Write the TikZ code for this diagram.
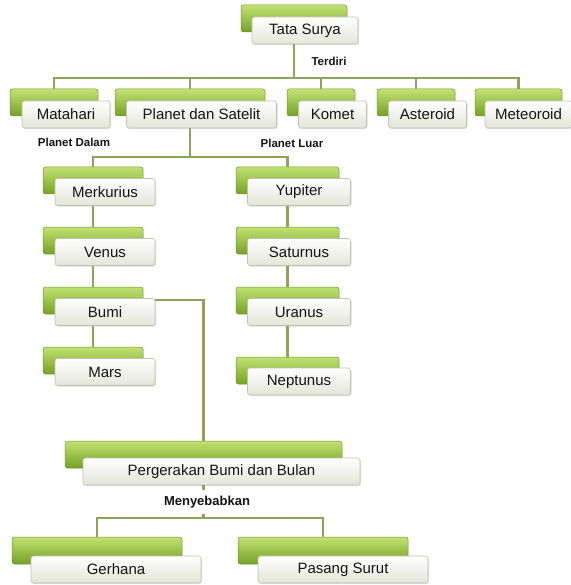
\documentclass[tikz,border=0pt]{standalone}
\usepackage{fontspec}
\setmainfont{Liberation Sans}
\usepackage{xcolor}
\usepackage{tikz}
\usetikzlibrary{shadows}
\definecolor{leaftop}{HTML}{C2E173}
\definecolor{leafbot}{HTML}{74A226}
\definecolor{leafline}{HTML}{6C9628}
\definecolor{paperbot}{HTML}{E3E5D9}
\definecolor{paperline}{HTML}{BFC2B0}
\definecolor{stem}{HTML}{8DA55A}
\definecolor{ink}{HTML}{141414}

\begin{document}
\begin{tikzpicture}[x=1pt,y=-1pt,
    greenbox/.style={draw=leafline,line width=0.5pt,rounded corners=2.5pt,top color=leaftop,bottom color=leafbot,minimum height=27pt,inner sep=0pt},
    namebox/.style={draw=paperline,line width=0.6pt,rounded corners=2.5pt,top color=white,bottom color=paperbot,minimum height=27pt,inner sep=0pt,
        font=\fontsize{15}{17}\selectfont,text=ink,drop shadow={opacity=.25,shadow xshift=1pt,shadow yshift=-1pt}},
    tag/.style={font=\fontsize{11.5}{13}\selectfont\bfseries,text=ink},
    link/.style={draw=stem,line width=2.2pt}]
        \useasboundingbox (0,0) rectangle (570,585);

        % boxes: green back, label card shifted down-right
        \foreach \n/\x/\y/\w/\dx/\dy/\txt in {%
        tata/294/18.5/106/11/12/{Tata Surya},
        matahari/54/102.5/88/12/12/{Matahari},
        planet/190/102.5/150/11.5/12/{Planet dan Satelit},
        komet/321/102.5/68/11.5/12/{Komet},
        asteroid/416/102.5/78/11.5/12/{Asteroid},
        meteoroid/518.5/102.5/87/10/12/{Meteoroid},
        merkurius/93/180.5/100/12/11.5/{Merkurius},
        venus/93/240.5/100/12/11.5/{Venus},
        bumi/93/300.5/100/12/11.5/{Bumi},
        mars/93/360.5/100/12/11.5/{Mars},
        yupiter/287.5/180.5/103/11.5/11.5/{Yupiter},
        saturnus/287.5/240.5/103/11.5/11.5/{Saturnus},
        uranus/287.5/300.5/103/11.5/11.5/{Uranus},
        neptunus/287.5/370.5/103/11.5/11/{Neptunus},
        gerak/203.5/454.5/277/18/17/{Pergerakan Bumi dan Bulan},
        gerhana/97/550.5/170/19/19/{Gerhana},
        pasang/323/550.5/170/20/19/{Pasang Surut}}{
                \node[greenbox,minimum width=\w] (\n-g) at (\x,\y) {};
                \node[namebox,minimum width=\w] (\n) at ([shift={(\dx,\dy)}]\n-g.center) {\txt};
            }

        % top level
        \coordinate (bus1) at (294,78);
        \draw[link] (tata.south -| tata-g.center) -- (bus1);
        \foreach \n in {matahari,planet,komet,asteroid,meteoroid}{
                \draw[link] (bus1) -| (\n-g.north);
            }
        \node[tag] (terdiri) at (329,61) {Terdiri};

        % planets
        \coordinate (bus2) at (190,157);
        \draw[link] (planet.south -| planet-g.center) -- (bus2);
        \draw[link] (bus2) -| (merkurius-g.north);
        \draw[link] (bus2) -| (yupiter-g.north);
        \node[tag] (dalam) at (74,142) {Planet Dalam};
        \node[tag] (luar) at (292,143) {Planet Luar};

        \foreach \a/\b in {merkurius/venus,venus/bumi,bumi/mars,yupiter/saturnus,saturnus/uranus,uranus/neptunus}{
                \draw[link] (\a.south -| \a-g.center) -- (\b-g.north);
            }

        % earth and moon
        \draw[link] ([yshift=-1.5pt]bumi.north east) -| (gerak-g.north);
        \coordinate (bus3) at (203.5,518);
        \draw[link] (gerak.south -| gerak-g.center) -- (bus3);
        \draw[link] (bus3) -| (gerhana-g.north);
        \draw[link] (bus3) -| (pasang-g.north);
        \node[tag,font=\fontsize{13}{15}\selectfont\bfseries,fill=white,inner ysep=6pt] (sebab) at (207,502) {Menyebabkan};
    \end{tikzpicture}
\end{document}
